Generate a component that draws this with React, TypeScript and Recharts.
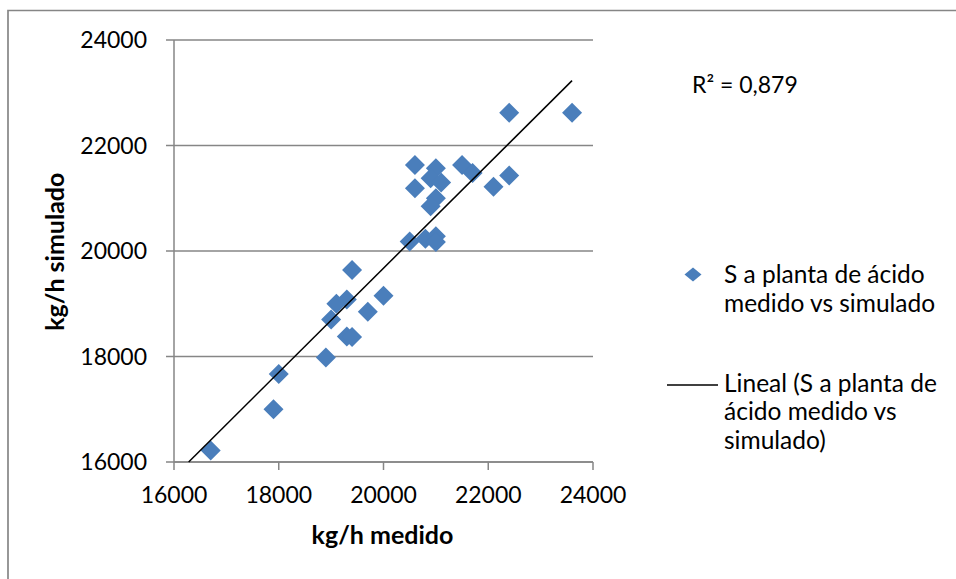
import type { ReactElement } from "react";
import { CartesianGrid, Scatter, ScatterChart, XAxis, YAxis } from "recharts";

// kg/h medido (x) vs kg/h simulado (y)
const MEDIDO = [
  22400, 23600, 20600, 21000, 21500, 21700, 20900, 21100, 22400, 22100,
  20600, 21000, 20900, 20500, 20800, 21000, 21000, 19400, 19100, 19300,
  20000, 19700, 19000, 19300, 19400, 18900, 18000, 17900, 16700,
];
const SIMULADO = [
  22620, 22620, 21630, 21570, 21630, 21480, 21380, 21300, 21430, 21220,
  21190, 21000, 20850, 20180, 20230, 20280, 20170, 19640, 19000, 19080,
  19150, 18850, 18700, 18380, 18370, 17980, 17670, 17000, 16220,
];

// linear trend line end points
const TREND_X = [16280, 23600];
const TREND_Y = [16000, 23230];

const TICKS = [16000, 18000, 20000, 22000, 24000];

const X_TITLE = "kg/h medido";
const Y_TITLE = "kg/h simulado";
const SERIES_LINES = ["S a planta de ácido", "medido vs simulado"];
const TREND_LINES = ["Lineal (S a planta de", "ácido medido vs", "simulado)"];
const R2_TEXT = "R² = 0,879";

const points = MEDIDO.map((x, i) => ({ x, y: SIMULADO[i] }));
const trend = TREND_X.map((x, i) => ({ x, y: TREND_Y[i] }));

const FONT = "Lato, 'Open Sans', sans-serif";
const GRAY = "#868686";
const BLUE = "#4A7EBB";
const TICK = { fill: "#000", fontSize: 23, fontFamily: FONT };

function Diamond(props: { cx?: number; cy?: number }): ReactElement {
  const { cx = 0, cy = 0 } = props;
  const r = 10;
  return (
    <path
      d={`M${cx},${cy - r}L${cx + r},${cy}L${cx},${cy + r}L${cx - r},${cy}Z`}
      fill={BLUE}
    />
  );
}

export default function App(): ReactElement {
  return (
    <div
      style={{
        position: "absolute",
        left: 0,
        top: 0,
        width: 956,
        height: 579,
        overflow: "hidden",
        background: "#fff",
      }}
    >
      <ScatterChart
        width={956}
        height={579}
        margin={{ top: 40, right: 363, left: 0, bottom: 0 }}
      >
        <CartesianGrid
          vertical={false}
          stroke={GRAY}
          strokeWidth={1.5}
        />
        <XAxis
          type="number"
          dataKey="x"
          domain={[16000, 24000]}
          ticks={TICKS}
          height={117}
          stroke={GRAY}
          strokeWidth={1.5}
          tickSize={8}
          tickMargin={17}
          tick={TICK}
          interval={0}
        />
        <YAxis
          type="number"
          dataKey="y"
          domain={[16000, 24000]}
          ticks={TICKS}
          width={174}
          stroke={GRAY}
          strokeWidth={1.5}
          tickSize={8}
          tickMargin={19}
          tick={TICK}
          interval={0}
        />
        <Scatter
          data={points}
          shape={(p: any) => <Diamond cx={p.cx} cy={p.cy} />}
          isAnimationActive={false}
        />
        <Scatter
          data={trend}
          line={{ stroke: "#000", strokeWidth: 1.5 }}
          shape={() => <g />}
          isAnimationActive={false}
        />
      </ScatterChart>

      <svg
        width={956}
        height={579}
        style={{ position: "absolute", left: 0, top: 0, pointerEvents: "none" }}
        fontFamily={FONT}
        fontSize={24.5}
      >
        {/* chart frame, only left and top edges are in view */}
        <path d="M956,10.5H8V579" fill="none" stroke={GRAY} strokeWidth={1.7} />

        <text
          x={64.5}
          y={251.7}
          transform="rotate(-90 64.5 251.7)"
          textAnchor="middle"
          fontWeight="bold"
          fontSize={25}
        >
          {Y_TITLE}
        </text>
        <text x={382.5} y={544} textAnchor="middle" fontWeight="bold" fontSize={25}>
          {X_TITLE}
        </text>

        <text x={692} y={92.7} fontSize={23}>
          {R2_TEXT}
        </text>

        <path d="M693,267.5L701.5,274.5L693,281.5L684.5,274.5Z" fill={BLUE} />
        {SERIES_LINES.map((t, i) => (
          <text key={t} x={724} y={283.3 + i * 28.4}>
            {t}
          </text>
        ))}

        <line x1={667} y1={385} x2={718} y2={385} stroke="#000" strokeWidth={1.5} />
        {TREND_LINES.map((t, i) => (
          <text key={t} x={724} y={391.7 + i * 28.4}>
            {t}
          </text>
        ))}
      </svg>
    </div>
  );
}
